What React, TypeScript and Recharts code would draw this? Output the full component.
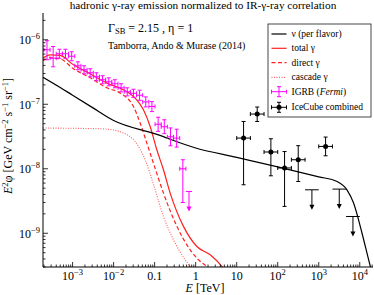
import React from 'react';
import { ComposedChart, Line, Scatter, XAxis, YAxis, ErrorBar } from 'recharts';

const FONT = '"Liberation Serif", "DejaVu Serif", serif';

// axes
const xDomain = [1.9e-4, 2.1e4];
const yDomain = [3e-10, 2.6e-6];
const xMajor = [1e-3, 1e-2, 0.1, 1, 10, 100, 1e3, 1e4];
const xMajorLabels = [['10', '−3'], ['10', '−2'], ['0.1', ''], ['1', ''], ['10', ''], ['10', '2'], ['10', '3'], ['10', '4']];
const yMajor = [1e-9, 1e-8, 1e-7, 1e-6];
const yMajorLabels = [['10', '−9'], ['10', '−8'], ['10', '−7'], ['10', '−6']];

// model curves (E in TeV, E^2 phi in GeV cm^-2 s^-1 sr^-1)
const nuE = [1.9e-4, 5e-4, 1e-3, 3e-3, 1e-2, 0.1, 1, 10, 100, 1000, 2780, 4870, 7060, 1.13e4, 1.64e4, 1.96e4];
const nuF = [2.63e-7, 1.82e-7, 1.38e-7, 8.95e-8, 5.6e-8, 3.5e-8, 2.1e-8, 1.5e-8, 1.07e-8, 7.5e-9, 6.35e-9, 4.72e-9, 2.94e-9, 1.01e-9, 3.9e-10, 2.5e-10];

const totalE = [1.9e-4, 2.83e-4, 4.95e-4, 1.05e-3, 2.67e-3, 6.83e-3, 0.0173, 0.0334, 0.0533, 0.0777, 0.113, 0.164, 0.239, 0.504, 1.07, 2.26, 4.43, 7];
const totalF = [5.2e-7, 5.85e-7, 5.71e-7, 4.09e-7, 2.97e-7, 2.13e-7, 1.68e-7, 1.25e-7, 8.22e-8, 4.53e-8, 1.97e-8, 9.65e-9, 4.2e-9, 1.28e-9, 6.24e-10, 4.64e-10, 3.03e-10, 2.0e-10];

const directE = [1.9e-4, 2.83e-4, 4.95e-4, 1.05e-3, 2.67e-3, 6.83e-3, 0.0144, 0.0304, 0.0443, 0.0645, 0.0935, 0.164, 0.348, 0.734, 1.17, 1.87, 3.0];
const directF = [4.72e-7, 5.26e-7, 5.07e-7, 3.55e-7, 2.58e-7, 1.8e-7, 1.49e-7, 9.24e-8, 5.12e-8, 2.5e-8, 1.22e-8, 4.2e-9, 1.28e-9, 5.54e-10, 3.88e-10, 3.05e-10, 2.3e-10];

const cascadeE = [1.9e-4, 4.69e-3, 0.0109, 0.019, 0.0339, 0.0587, 0.0935, 0.164, 0.288, 0.555, 0.734, 1.03];
const cascadeF = [4.28e-8, 4.17e-8, 3.95e-8, 3.49e-8, 2.62e-8, 1.38e-8, 5.75e-9, 1.82e-9, 7.92e-10, 3.88e-10, 3.05e-10, 2.3e-10];

// Fermi IGRB
const IGRB_HALF_DEX = 0.075;
const igrbE = [2.377e-4, 3.357e-4, 4.753e-4, 6.714e-4, 9.506e-4, 1.343e-3, 1.901e-3, 2.685e-3, 3.802e-3, 5.37e-3, 7.603e-3, 1.074e-2, 1.521e-2, 2.148e-2, 3.041e-2, 4.295e-2, 6.081e-2, 8.59e-2, 0.1216, 0.1718, 0.2432, 0.3436, 0.4864];
const igrbF = [7.0e-7, 5.17e-7, 6.07e-7, 6.07e-7, 5.55e-7, 3.95e-7, 3.43e-7, 3.08e-7, 2.67e-7, 2.4e-7, 2.23e-7, 2.08e-7, 1.8e-7, 1.56e-7, 1.48e-7, 1.38e-7, 1.09e-7, 9.24e-8, 4.9e-8, 4.48e-8, 3.13e-8, 2.99e-8, 1.0e-8];
const igrbHi = [9.65e-7, 7.87e-7, 7.13e-7, 7.13e-7, 6.52e-7, 4.55e-7, 3.95e-7, 3.55e-7, 3.08e-7, 2.77e-7, 2.57e-7, 2.4e-7, 2.08e-7, 1.8e-7, 1.71e-7, 1.65e-7, 1.3e-7, 1.1e-7, 6.3e-8, 5.75e-8, 4.3e-8, 4.1e-8, 1.38e-8];
const igrbLo = [4.9e-7, 3.81e-7, 5.17e-7, 5.17e-7, 4.73e-7, 3.43e-7, 2.97e-7, 2.67e-7, 2.32e-7, 2.08e-7, 1.93e-7, 1.8e-7, 1.56e-7, 1.35e-7, 1.28e-7, 1.15e-7, 9.1e-8, 7.7e-8, 3.8e-8, 3.5e-8, 2.27e-8, 2.17e-8, 3.0e-9];
const igrbUlE = [0.6871];
const igrbUlF = [4.45e-9];

// IceCube combined
const IC_HALF_DEX = 1 / 6;
const icE = [14.7, 31.6, 68.1, 146.8, 316, 1468];
const icF = [2.99e-8, 7.05e-8, 1.82e-8, 1.03e-8, 1.38e-8, 2.22e-8];
const icHi = [5.41e-8, 9.06e-8, 2.92e-8, 1.85e-8, 2.28e-8, 3.1e-8];
const icLo = [5.65e-9, 5.41e-8, 7.78e-9, 2.61e-9, 6.35e-9, 1.59e-8];
const icUlE = [681, 3162, 6813];
const icUlF = [4.72e-9, 4.84e-9, 1.82e-9];

const curve = (es: number[], fs: number[]) => es.map((E, i) => ({ E, F: fs[i] }));
const xErr = (E: number, half: number) => [E - E / Math.pow(10, half), E * Math.pow(10, half) - E];

const nuData = curve(nuE, nuF);
const totalData = curve(totalE, totalF);
const directData = curve(directE, directF);
const cascadeData = curve(cascadeE, cascadeF);
const igrbData = igrbE.map((E, i) => ({ E, F: igrbF[i], ex: xErr(E, IGRB_HALF_DEX), ey: [igrbF[i] - igrbLo[i], igrbHi[i] - igrbF[i]] }));
const igrbUlData = igrbUlE.map((E, i) => ({ E, F: igrbUlF[i], ex: xErr(E, IGRB_HALF_DEX) }));
const icData = icE.map((E, i) => ({ E, F: icF[i], ex: xErr(E, IC_HALF_DEX), ey: [icF[i] - icLo[i], icHi[i] - icF[i]] }));
const icUlData = icUlE.map((E, i) => ({ E, F: icUlF[i], ex: xErr(E, IC_HALF_DEX) }));

// log ticks incl. minor ones
const logTicks = (lo: number, hi: number) => {
  const out: number[] = [];
  for (let d = Math.floor(Math.log10(lo)); d <= Math.ceil(Math.log10(hi)); d++) {
    for (let m = 1; m < 10; m++) {
      const v = m * Math.pow(10, d);
      if (v >= lo && v <= hi) out.push(v);
    }
  }
  return out;
};
const xTicks = logTicks(xDomain[0], xDomain[1]);
const yTicks = logTicks(yDomain[0], yDomain[1]);

const findMajor = (list: number[], v: number) => list.findIndex((t) => Math.abs(Math.log10(t) - Math.log10(v)) < 1e-6);

const XTick = ({ x, y, payload, top }: any) => {
  const idx = findMajor(xMajor, payload.value);
  const lg = Math.log10(payload.value);
  const major = Math.abs(lg - Math.round(lg)) < 1e-6;
  const len = major ? 5 : 2.5;
  const dir = top ? 1 : -1;
  const lab = idx >= 0 ? xMajorLabels[idx] : null;
  return (
    <g>
      <line x1={x} x2={x} y1={y} y2={y + dir * len} stroke="#000" strokeWidth={0.8} />
      {!top && lab && (
        <text x={x} y={y + 12.5} textAnchor="middle" fontFamily={FONT} fontSize={12} fill="#000">
          {lab[0]}
          {lab[1] && <tspan dy={-5} fontSize={8.5}>{lab[1]}</tspan>}
        </text>
      )}
    </g>
  );
};

const YTick = ({ x, y, payload, right }: any) => {
  const idx = findMajor(yMajor, payload.value);
  const lg = Math.log10(payload.value);
  const major = Math.abs(lg - Math.round(lg)) < 1e-6;
  const len = major ? 5 : 2.5;
  const dir = right ? -1 : 1;
  const lab = idx >= 0 ? yMajorLabels[idx] : null;
  return (
    <g>
      <line x1={x} x2={x + dir * len} y1={y} y2={y} stroke="#000" strokeWidth={0.8} />
      {!right && lab && (
        <text x={x - 3} y={y + 4.5} textAnchor="end" fontFamily={FONT} fontSize={12} fill="#000">
          {lab[0]}
          <tspan dy={-5} fontSize={8.5}>{lab[1]}</tspan>
        </text>
      )}
    </g>
  );
};

const noMarker = () => <g />;
const icMarker = (p: any) => <circle cx={p.cx} cy={p.cy} r={2.5} fill="#000" />;
const arrowDown = (color: string) => (p: any) => (
  <g>
    <line x1={p.cx} x2={p.cx} y1={p.cy} y2={p.cy + 16} stroke={color} strokeWidth={1} />
    <path d={`M${p.cx - 2.5},${p.cy + 15} L${p.cx + 2.5},${p.cy + 15} L${p.cx},${p.cy + 20} Z`} fill={color} />
  </g>
);

const MAGENTA = '#ff00ff';
const RED = '#ff2020';

const legendRows = [
  { label: 'ν (per flavor)', kind: 'line', color: '#000', dash: undefined as string | undefined },
  { label: 'total γ', kind: 'line', color: RED, dash: undefined },
  { label: 'direct γ', kind: 'line', color: RED, dash: '4 2.5' },
  { label: 'cascade γ', kind: 'line', color: '#ff6060', dash: '1 1.5' },
  { label: 'IGRB', kind: 'igrb', color: MAGENTA, dash: undefined },
  { label: 'IceCube combined', kind: 'ic', color: '#000', dash: undefined },
];
const legendRowY = [34, 48.3, 62.7, 77.3, 91.7, 107.3];

const LegendIcon = ({ kind, color, dash, cy }: any) => {
  const x0 = 271.5;
  const x1 = 286.5;
  const xm = (x0 + x1) / 2;
  if (kind === 'line') {
    return <line x1={x0} x2={x1} y1={cy} y2={cy} stroke={color} strokeWidth={1.2} strokeDasharray={dash} />;
  }
  return (
    <g stroke={color} strokeWidth={1}>
      <line x1={x0} x2={x1} y1={cy} y2={cy} />
      <line x1={x0} x2={x0} y1={cy - 2} y2={cy + 2} />
      <line x1={x1} x2={x1} y1={cy - 2} y2={cy + 2} />
      <line x1={xm} x2={xm} y1={cy - 5} y2={cy + 5} />
      <line x1={xm - 2} x2={xm + 2} y1={cy - 5} y2={cy - 5} />
      <line x1={xm - 2} x2={xm + 2} y1={cy + 5} y2={cy + 5} />
      {kind === 'ic' && <circle cx={xm} cy={cy} r={2.5} fill={color} stroke="none" />}
    </g>
  );
};

export default function App() {
  return (
    <div style={{ position: 'absolute', left: 0, top: 0, width: 374, height: 295, background: '#fff' }}>
      <ComposedChart width={374} height={295} margin={{ top: 13, right: 1, bottom: 0, left: 0 }}>
        <XAxis
          dataKey="E"
          type="number"
          scale="log"
          domain={xDomain}
          allowDataOverflow
          ticks={xTicks}
          interval={0}
          height={28}
          tickSize={0}
          tickMargin={0}
          tickLine={false}
          axisLine={{ stroke: '#000', strokeWidth: 1 }}
          tick={(p: any) => <XTick {...p} />}
        />
        <XAxis
          xAxisId="top"
          dataKey="E"
          type="number"
          scale="log"
          orientation="top"
          domain={xDomain}
          allowDataOverflow
          ticks={xTicks}
          interval={0}
          height={0}
          tickSize={0}
          tickMargin={0}
          tickLine={false}
          axisLine={{ stroke: '#000', strokeWidth: 1 }}
          tick={(p: any) => <XTick {...p} top />}
        />
        <YAxis
          dataKey="F"
          type="number"
          scale="log"
          domain={yDomain}
          allowDataOverflow
          ticks={yTicks}
          interval={0}
          width={43}
          tickSize={0}
          tickMargin={0}
          tickLine={false}
          axisLine={{ stroke: '#000', strokeWidth: 1 }}
          tick={(p: any) => <YTick {...p} />}
        />
        <YAxis
          yAxisId="right"
          dataKey="F"
          type="number"
          scale="log"
          orientation="right"
          domain={yDomain}
          allowDataOverflow
          ticks={yTicks}
          interval={0}
          width={0}
          tickSize={0}
          tickMargin={0}
          tickLine={false}
          axisLine={{ stroke: '#000', strokeWidth: 1 }}
          tick={(p: any) => <YTick {...p} right />}
        />
        <Line data={cascadeData} dataKey="F" type="monotone" stroke="#ff6060" strokeWidth={1.1} strokeDasharray="1 1.5" dot={false} activeDot={false} isAnimationActive={false} />
        <Line data={directData} dataKey="F" type="monotone" stroke={RED} strokeWidth={1.2} strokeDasharray="4 2.5" dot={false} activeDot={false} isAnimationActive={false} />
        <Line data={totalData} dataKey="F" type="monotone" stroke={RED} strokeWidth={1.2} dot={false} activeDot={false} isAnimationActive={false} />
        <Line data={nuData} dataKey="F" type="monotone" stroke="#000" strokeWidth={1.2} dot={false} activeDot={false} isAnimationActive={false} />
        <Scatter data={igrbData} fill={MAGENTA} shape={noMarker} isAnimationActive={false}>
          <ErrorBar dataKey="ex" direction="x" stroke={MAGENTA} width={2} strokeWidth={1} isAnimationActive={false} />
          <ErrorBar dataKey="ey" direction="y" stroke={MAGENTA} width={2} strokeWidth={1} isAnimationActive={false} />
        </Scatter>
        <Scatter data={igrbUlData} fill={MAGENTA} shape={arrowDown(MAGENTA)} isAnimationActive={false}>
          <ErrorBar dataKey="ex" direction="x" stroke={MAGENTA} width={0} strokeWidth={1} isAnimationActive={false} />
        </Scatter>
        <Scatter data={icData} fill="#000" shape={icMarker} isAnimationActive={false}>
          <ErrorBar dataKey="ex" direction="x" stroke="#000" width={2} strokeWidth={1} isAnimationActive={false} />
          <ErrorBar dataKey="ey" direction="y" stroke="#000" width={2} strokeWidth={1} isAnimationActive={false} />
        </Scatter>
        <Scatter data={icUlData} fill="#000" shape={arrowDown('#000')} isAnimationActive={false}>
          <ErrorBar dataKey="ex" direction="x" stroke="#000" width={0} strokeWidth={1} isAnimationActive={false} />
        </Scatter>
      </ComposedChart>
      <svg width={374} height={295} style={{ position: 'absolute', left: 0, top: 0, pointerEvents: 'none' }} fontFamily={FONT} fill="#000">
        <text x={203} y={8.5} textAnchor="middle" fontSize={11.3}>
          hadronic γ-ray emission normalized to IR-γ-ray correlation
        </text>
        <text x={108} y={31.5} fontSize={12}>
          Γ<tspan fontSize={8.5} dy={2}>SB</tspan>
          <tspan dy={-2}> = 2.15 , η = 1</tspan>
        </text>
        <text x={108} y={48.5} fontSize={10}>Tamborra, Ando &amp; Murase (2014)</text>
        <text transform="translate(12,136) rotate(-90)" textAnchor="middle" fontSize={12}>
          <tspan fontStyle="italic">E</tspan>
          <tspan dy={-4.5} fontSize={8.5}>2</tspan>
          <tspan dy={4.5}>φ [GeV cm</tspan>
          <tspan dy={-4.5} fontSize={8.5}>−2</tspan>
          <tspan dy={4.5}> s</tspan>
          <tspan dy={-4.5} fontSize={8.5}>−1</tspan>
          <tspan dy={4.5}> sr</tspan>
          <tspan dy={-4.5} fontSize={8.5}>−1</tspan>
          <tspan dy={4.5}>]</tspan>
        </text>
        <text x={205} y={292} textAnchor="middle" fontSize={12}>
          <tspan fontStyle="italic">E</tspan> [TeV]
        </text>
        <rect x={268} y={24} width={103} height={93} fill="#fff" stroke="#333" strokeWidth={0.9} />
        {legendRows.map((r, i) => (
          <g key={r.label}>
            <LegendIcon kind={r.kind} color={r.color} dash={r.dash} cy={legendRowY[i]} />
            <text x={291.5} y={legendRowY[i] + 3} fontSize={9.5}>
              {r.label}
              {r.kind === 'igrb' && (
                <tspan>
                  {' ('}
                  <tspan fontStyle="italic">Fermi</tspan>)
                </tspan>
              )}
            </text>
          </g>
        ))}
      </svg>
    </div>
  );
}
